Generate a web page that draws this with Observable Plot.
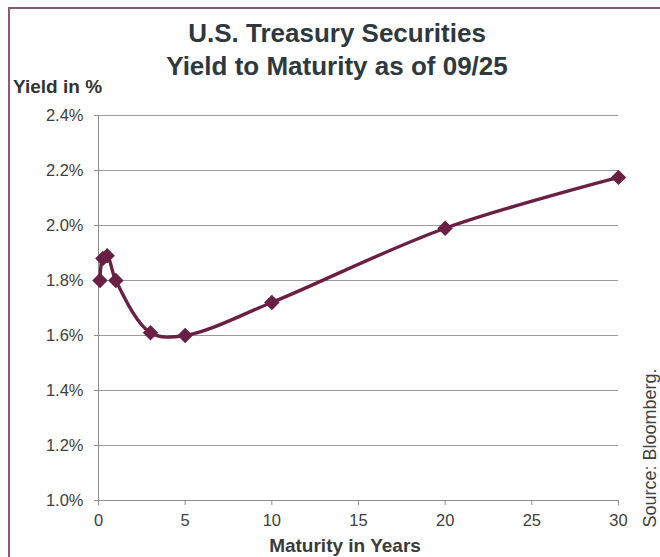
<!DOCTYPE html>
<html>
<head>
<meta charset="utf-8">
<script src="https://cdn.jsdelivr.net/npm/d3@7"></script>
<script src="https://cdn.jsdelivr.net/npm/@observablehq/plot@0.6"></script>
<style>
  html, body { margin: 0; padding: 0; background: #fff; }
  #wrap { position: relative; width: 660px; height: 557px; overflow: hidden; font-family: "Liberation Sans", Arial, sans-serif; }
  #frame { position: absolute; left: 8px; top: 7px; right: -10px; bottom: -10px; border-top: 2px solid #8a5b74; border-left: 2px solid #8a5b74; }
  #chart { position: absolute; left: 0; top: 0; }
</style>
</head>
<body>
<div id="wrap"><div id="frame"></div><div id="chart"></div></div>
<script>
const maturities = [1/12, 0.25, 0.5, 1, 3, 5, 10, 20, 30];
const yields = [1.80, 1.88, 1.89, 1.80, 1.61, 1.60, 1.72, 1.99, 2.175];
const yTicks = [1.0, 1.2, 1.4, 1.6, 1.8, 2.0, 2.2, 2.4];
const xTicks = [0, 5, 10, 15, 20, 25, 30];
const titleLines = ["U.S. Treasury Securities", "Yield to Maturity as of 09/25"];
const yLabel = "Yield in %";
const xLabel = "Maturity in Years";
const sourceText = "Source: Bloomberg.";

const data = maturities.map((m, i) => ({ m, y: yields[i] }));
const lineColor = "#6a1f45";
const W = 660, H = 557;
const fmt = d => d.toFixed(1) + "%";

const plot = Plot.plot({
  width: W,
  height: H,
  marginLeft: 98,
  marginRight: 42,
  marginTop: 115,
  marginBottom: 57,
  style: { fontFamily: "Liberation Sans, Arial, sans-serif", fontSize: "16.5px", color: "#404040", background: "transparent", overflow: "visible" },
  x: { domain: [0, 30], ticks: xTicks, label: null },
  y: { domain: [1.0, 2.4], ticks: yTicks, label: null, tickFormat: fmt },
  marks: [
    Plot.gridY(yTicks, { stroke: "#9a9a9a", strokeOpacity: 1, strokeWidth: 1 }),
    Plot.ruleX([0], { stroke: "#8c8c8c", strokeWidth: 1 }),
    Plot.ruleY([1.0], { stroke: "#8c8c8c", strokeWidth: 1 }),
    Plot.axisY(yTicks, { tickSize: 4, tickPadding: 11, stroke: "#8c8c8c", fill: "#404040", fontSize: 16.5, label: null, tickFormat: fmt }),
    Plot.axisX(xTicks, { tickSize: 5, tickPadding: 9, stroke: "#8c8c8c", fill: "#404040", fontSize: 16.5, label: null }),
    Plot.line(data, { x: "m", y: "y", stroke: lineColor, strokeWidth: 3.4, curve: "catmull-rom" }),
    Plot.dot(data, { x: "m", y: "y", symbol: "diamond2", r: 6, fill: lineColor, stroke: lineColor, strokeWidth: 1.5 })
  ]
});
document.getElementById("chart").appendChild(plot);

const svg = d3.select(plot);
const tg = svg.append("g").attr("font-family", "Liberation Sans, Arial, sans-serif").attr("text-anchor", "start");
titleLines.forEach((t, i) => {
  tg.append("text").attr("x", 337).attr("y", 42 + i * 33).attr("text-anchor", "middle")
    .attr("font-size", 26).attr("font-weight", "bold").attr("fill", "#2d393e").text(t);
});
tg.append("text").attr("x", 13).attr("y", 93).attr("text-anchor", "start").attr("font-size", 19).attr("font-weight", "bold").attr("fill", "#333").text(yLabel);
tg.append("text").attr("x", 345).attr("y", 552).attr("text-anchor", "middle").attr("font-size", 19).attr("font-weight", "bold").attr("fill", "#3a3a3a").text(xLabel);
tg.append("text").attr("transform", "translate(656,448) rotate(-90)").attr("text-anchor", "middle")
  .attr("font-size", 18).attr("fill", "#404040").text(sourceText);
</script>
</body>
</html>
